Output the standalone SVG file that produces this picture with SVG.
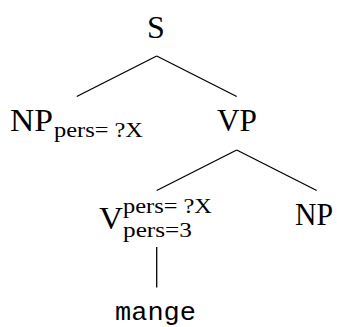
<svg xmlns="http://www.w3.org/2000/svg" width="337" height="327" viewBox="0 0 337 327">
<style>
.big{font-size:32px;fill:#000}
.small{font-size:20px;fill:#000}
.mono{font-size:26px;fill:#000}
.edge{stroke:#000;stroke-width:1.3;fill:none}
</style>
<rect width="337" height="327" fill="#fff"/>
<g id="connectors">
<line class="edge" x1="156.7" y1="56" x2="76.7" y2="96.5"/>
<line class="edge" x1="156.7" y1="56" x2="236.7" y2="96.5"/>
<line class="edge" x1="236.7" y1="150" x2="156.7" y2="190.5"/>
<line class="edge" x1="236.7" y1="150" x2="316.7" y2="190.5"/>
<line class="edge" x1="156.7" y1="247" x2="156.7" y2="287.5"/>
</g>
<g font-family="Liberation Serif, DejaVu Serif, serif">
<g id="S"><text class="big" x="156" y="37.5" text-anchor="middle">S</text></g>
<g id="NP1">
<text class="big" x="10" y="131" textLength="43" lengthAdjust="spacingAndGlyphs">NP</text>
<text class="small" x="54" y="137" textLength="89" lengthAdjust="spacingAndGlyphs">pers= ?X</text>
</g>
<g id="VP"><text class="big" x="217" y="131" textLength="40" lengthAdjust="spacingAndGlyphs">VP</text></g>
<g id="V">
<text class="big" x="99" y="229" textLength="24" lengthAdjust="spacingAndGlyphs">V</text>
<text class="small" x="123" y="213" textLength="89" lengthAdjust="spacingAndGlyphs">pers= ?X</text>
<text class="small" x="123" y="237" textLength="69" lengthAdjust="spacingAndGlyphs">pers=3</text>
</g>
<g id="NP2"><text class="big" x="295" y="225" textLength="38" lengthAdjust="spacingAndGlyphs">NP</text></g>
</g>
<g id="mange" font-family="Liberation Mono, DejaVu Sans Mono, monospace"><text class="mono" x="115" y="320" textLength="81" lengthAdjust="spacingAndGlyphs">mange</text></g>
</svg>
